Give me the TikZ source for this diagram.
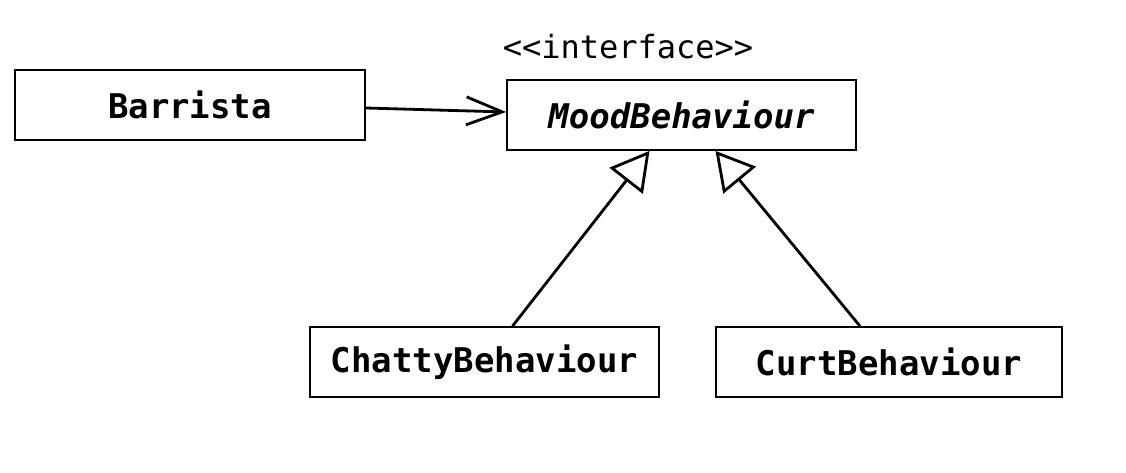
\documentclass[tikz,border=0pt]{standalone}
\usepackage{fontspec}
\setmonofont{DejaVu Sans Mono}
\usetikzlibrary{arrows.meta}
\begin{document}
\begin{tikzpicture}[x=0.5pt,y=-0.5pt,
  cls/.style={draw, line width=0.9pt, inner sep=0pt, minimum height=35pt, font=\fontsize{17}{20}\selectfont\ttfamily\bfseries},
  assoc/.style={line width=1.4pt, -{Straight Barb[length=18pt,width=14pt,line width=1.4pt]}},
  inherit/.style={line width=1.4pt, -{Triangle[open,length=19pt,width=21pt,line width=1.4pt]}}]
\useasboundingbox (0,0) rectangle (1126,472);
\node[cls, minimum width=175pt] (barrista) at (190,105) {Barrista};
\node[cls, minimum width=174.5pt, font=\fontsize{17}{20}\selectfont\ttfamily\bfseries\itshape] (mood) at (681.5,115) {MoodBehaviour};
\node[font=\fontsize{16}{19}\selectfont\ttfamily, anchor=base] (stereo) at (628,58) {<{}<interface>{}>};
\node[cls, minimum width=174.5pt] (chatty) at (484.5,362) {ChattyBehaviour};
\node[cls, minimum width=173pt] (curt) at (889,362) {CurtBehaviour};
\draw[assoc] ([yshift=-1.5pt]barrista.east) -- ([yshift=1.5pt]mood.west);
\draw[inherit] ([xshift=14pt]chatty.north) -- ([xshift=-16pt]mood.south);
\draw[inherit] ([xshift=-14.5pt]curt.north) -- ([xshift=17pt]mood.south);
\end{tikzpicture}
\end{document}
